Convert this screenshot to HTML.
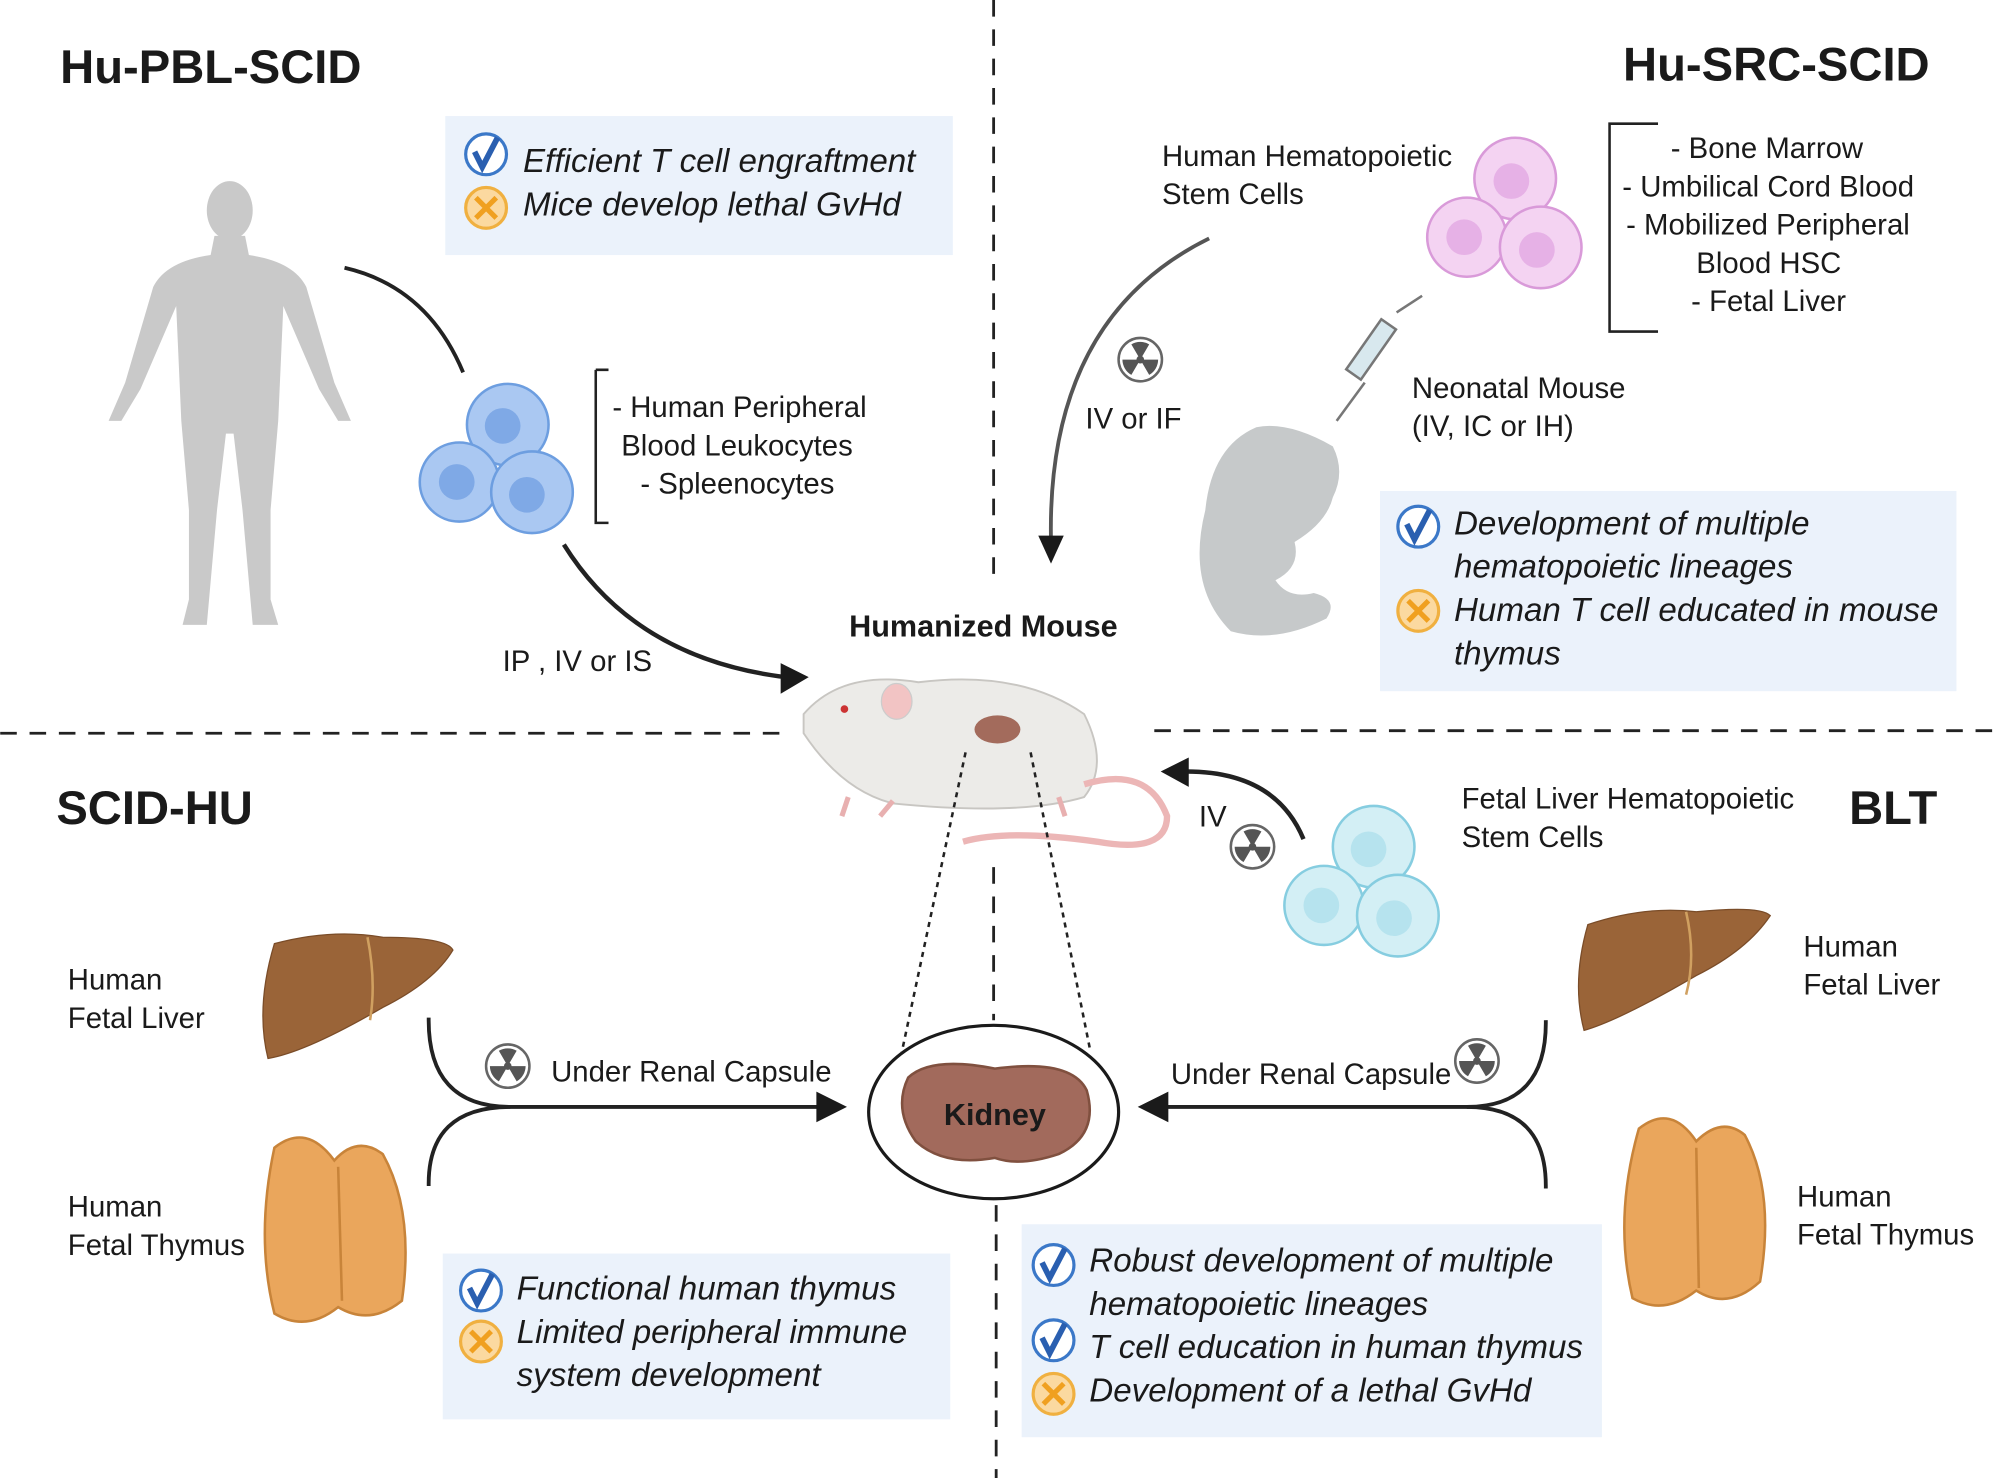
<!DOCTYPE html>
<html><head><meta charset="utf-8"><style>
html,body{margin:0;padding:0;background:#fff;}
svg{display:block;}
text{font-family:"Liberation Sans",sans-serif;fill:#1a1a1a;}
.t{font-size:23px;}
.i{font-size:26px;font-style:italic;}
.h{font-size:37px;font-weight:bold;}
</style></head><body>
<svg width="2000" height="1478" viewBox="0 0 1568 1159" xmlns="http://www.w3.org/2000/svg">
<defs>
<g id="chk"><circle cx="0" cy="0" r="16" fill="#fff" stroke="#3b78c8" stroke-width="2.5"/><path d="M-9,-2 L-3,10 L9,-13" fill="none" stroke="#2a5fb0" stroke-width="4.5"/></g>
<g id="crs"><circle cx="0" cy="0" r="16" fill="#fbd9a0" stroke="#f0b040" stroke-width="2.5"/><path d="M-8,-8 L8,8 M8,-8 L-8,8" stroke="#f0a020" stroke-width="4"/></g>
<g id="rad"><circle r="17" fill="#fff" stroke="#666" stroke-width="2"/><circle r="3" fill="#555"/><path d="M0,0 L-7,-12 A14,14 0 0 1 7,-12 Z M0,0 L14,0 A14,14 0 0 1 7,12 Z M0,0 L-7,12 A14,14 0 0 1 -14,0 Z" fill="#555"/></g>
</defs>
<g stroke="#222" stroke-width="2.2" stroke-dasharray="13,10" fill="none">
<line x1="779" y1="0" x2="779" y2="455"/>
<line x1="779" y1="680" x2="779" y2="800"/>
<line x1="781" y1="945" x2="781" y2="1159"/>
<line x1="0" y1="575" x2="615" y2="575"/>
<line x1="905" y1="573" x2="1568" y2="573"/>
</g>
<text class="h" x="47" y="65">Hu-PBL-SCID</text>
<text class="h" x="1513" y="63" text-anchor="end">Hu-SRC-SCID</text>
<text class="h" x="44" y="646">SCID-HU</text>
<text class="h" x="1519" y="646" text-anchor="end">BLT</text>
<rect x="349" y="91" width="398" height="109" fill="#ebf2fb"/>
<rect x="1082" y="385" width="452" height="157" fill="#ebf2fb"/>
<rect x="347" y="983" width="398" height="130" fill="#ebf2fb"/>
<rect x="801" y="960" width="455" height="167" fill="#ebf2fb"/>
<use href="#chk" x="381" y="121"/><use href="#crs" x="381" y="163"/>
<text class="i" x="410" y="135">Efficient T cell engraftment</text>
<text class="i" x="410" y="169">Mice develop lethal GvHd</text>
<use href="#chk" x="1112" y="413"/><use href="#crs" x="1112" y="479"/>
<text class="i" x="1140" y="419">Development of multiple</text>
<text class="i" x="1140" y="453">hematopoietic lineages</text>
<text class="i" x="1140" y="487">Human T cell educated in mouse</text>
<text class="i" x="1140" y="521">thymus</text>
<use href="#chk" x="377" y="1012"/><use href="#crs" x="377" y="1052"/>
<text class="i" x="405" y="1019">Functional human thymus</text>
<text class="i" x="405" y="1053">Limited peripheral immune</text>
<text class="i" x="405" y="1087">system development</text>
<use href="#chk" x="826" y="992"/><use href="#chk" x="826" y="1051"/><use href="#crs" x="826" y="1093"/>
<text class="i" x="854" y="997">Robust development of multiple</text>
<text class="i" x="854" y="1031">hematopoietic lineages</text>
<text class="i" x="854" y="1065">T cell education in human thymus</text>
<text class="i" x="854" y="1099">Development of a lethal GvHd</text>
<g fill="#c9c9c9">
<ellipse cx="180" cy="165" rx="18" ry="23"/>
<path d="M168,185 L192,185 L195,200 Q230,205 240,225 L262,300 L275,330 L265,330 L250,305 L222,240 L218,330 L212,400 L212,470 L218,490 L198,490 L190,400 L183,340 L177,340 L170,400 L162,490 L143,490 L148,470 L148,400 L142,330 L138,240 L110,305 L95,330 L85,330 L98,300 L120,225 Q130,205 165,200 Z"/>
</g>
<g stroke="#6d9ee0" stroke-width="2" fill="#aac8f2">
<circle cx="398" cy="333" r="32"/><circle cx="360" cy="378" r="31"/><circle cx="417" cy="386" r="32"/>
</g>
<g fill="#7fa9e6"><circle cx="394" cy="334" r="14"/><circle cx="358" cy="378" r="14"/><circle cx="413" cy="388" r="14"/></g>
<path d="M467,290 L477,290 M467,290 L467,410 L477,410" stroke="#222" stroke-width="2" fill="none"/>
<text class="t" x="480" y="327">- Human Peripheral</text>
<text class="t" x="487" y="357">Blood Leukocytes</text>
<text class="t" x="502" y="387">- Spleenocytes</text>
<path d="M270,210 Q335,225 363,292" stroke="#222" stroke-width="3" fill="none"/>
<path d="M442,427 Q500,520 625,532" stroke="#222" stroke-width="3.5" fill="none"/>
<path d="M612,520 L634,531 L612,544 z" fill="#1a1a1a"/>
<text class="t" x="394" y="526">IP , IV or IS</text>
<text class="t" x="911" y="130">Human Hematopoietic</text>
<text class="t" x="911" y="160">Stem Cells</text>
<g stroke="#d99ad9" stroke-width="2" fill="#f4d3f2">
<circle cx="1188" cy="140" r="32"/><circle cx="1150" cy="186" r="31"/><circle cx="1208" cy="194" r="32"/>
</g>
<g fill="#e6b1e6"><circle cx="1185" cy="142" r="14"/><circle cx="1148" cy="186" r="14"/><circle cx="1205" cy="196" r="14"/></g>
<path d="M1272,97 L1262,97 L1262,260 L1300,260 M1262,97 L1300,97" stroke="#222" stroke-width="2" fill="none"/>
<text class="t" x="1310" y="124">- Bone Marrow</text>
<text class="t" x="1272" y="154">- Umbilical Cord Blood</text>
<text class="t" x="1275" y="184">- Mobilized Peripheral</text>
<text class="t" x="1330" y="214">Blood HSC</text>
<text class="t" x="1326" y="244">- Fetal Liver</text>
<path d="M948,187 Q820,250 824,425" stroke="#555" stroke-width="3" fill="none"/>
<path d="M814,420 L824,442 L834,420 z" fill="#1a1a1a"/>
<use href="#rad" x="894" y="282"/>
<text class="t" x="851" y="336">IV or IF</text>
<g stroke="#777" stroke-width="2"><line x1="1048" y1="330" x2="1070" y2="300"/><rect x="1068" y="250" width="14" height="48" fill="#d8e8ee" transform="rotate(35 1075 274)"/><line x1="1095" y1="245" x2="1115" y2="232"/></g>
<text class="t" x="1107" y="312">Neonatal Mouse</text>
<text class="t" x="1107" y="342">(IV, IC or IH)</text>
<g fill="#c6c9ca">
<path d="M1045,350 Q1010,330 985,335 Q950,350 945,400 Q930,460 965,495 Q1000,505 1040,485 Q1050,470 1030,465 Q1010,470 1000,455 Q1020,445 1015,425 Q1040,410 1045,390 Q1055,370 1045,350 Z"/>
</g>
<text x="771" y="499" text-anchor="middle" style="font-size:24px;font-weight:bold">Humanized Mouse</text>
<g>
<path d="M630,560 Q660,525 720,535 Q800,525 850,560 Q870,600 850,625 Q800,640 700,630 Q660,620 630,575 Z" fill="#ecebe8" stroke="#c8c6c2" stroke-width="1.5"/>
<ellipse cx="703" cy="550" rx="12" ry="14" fill="#f2c4c4" stroke="#ccc"/>
<ellipse cx="782" cy="572" rx="18" ry="11" fill="#a36b5c"/>
<circle cx="662" cy="556" r="3" fill="#c33"/>
<path d="M850,615 Q900,600 915,640 Q915,670 860,660 Q790,650 755,660" stroke="#ecb6b6" stroke-width="5" fill="none"/>
<path d="M665,625 L660,640 M700,628 L690,640 M830,625 L835,640" stroke="#e8b0b0" stroke-width="4"/>
</g>
<path d="M757,590 L707,825 M808,590 L855,825" stroke="#222" stroke-width="2" stroke-dasharray="4,4" fill="none"/>
<ellipse cx="779" cy="872" rx="98" ry="68" fill="#fff" stroke="#1a1a1a" stroke-width="2.5"/>
<path d="M712,845 Q730,828 780,838 Q840,830 852,855 Q862,890 830,905 Q800,915 780,908 Q740,915 718,895 Q700,870 712,845 Z" fill="#a26a5c" stroke="#80503f" stroke-width="2"/>
<text x="780" y="882" text-anchor="middle" style="font-size:24px;font-weight:bold">Kidney</text>
<text class="t" x="53" y="776">Human</text>
<text class="t" x="53" y="806">Fetal Liver</text>
<text class="t" x="53" y="954">Human</text>
<text class="t" x="53" y="984">Fetal Thymus</text>
<path d="M215,740 Q260,728 300,735 Q350,735 355,745 Q340,770 300,790 Q240,825 210,830 Q200,790 215,740 Z" fill="#9a6438" stroke="#7a4c28"/>
<path d="M288,735 Q295,770 290,800" stroke="#d0a060" stroke-width="2" fill="none"/>
<path d="M215,900 Q240,880 262,910 Q280,890 300,905 Q325,950 315,1020 Q290,1040 265,1025 Q240,1045 215,1030 Q200,970 215,900 Z" fill="#eaa65c" stroke="#c8843a" stroke-width="2"/>
<path d="M265,915 L268,1020" stroke="#c8843a" stroke-width="2"/>
<path d="M336,798 Q335,868 400,868 L660,868" stroke="#222" stroke-width="3" fill="none"/>
<path d="M336,930 Q335,868 400,868" stroke="#222" stroke-width="3" fill="none"/>
<path d="M640,856 L664,868 L640,880 z" fill="#1a1a1a"/>
<use href="#rad" x="398" y="836"/>
<text class="t" x="432" y="848">Under Renal Capsule</text>
<text class="t" x="1146" y="634">Fetal Liver Hematopoietic</text>
<text class="t" x="1146" y="664">Stem Cells</text>
<g stroke="#86cde0" stroke-width="2" fill="#d3eff5">
<circle cx="1077" cy="664" r="32"/><circle cx="1038" cy="710" r="31"/><circle cx="1096" cy="718" r="32"/>
</g>
<g fill="#b6e3ee"><circle cx="1073" cy="666" r="14"/><circle cx="1036" cy="710" r="14"/><circle cx="1093" cy="720" r="14"/></g>
<path d="M1022,658 Q1000,605 930,605" stroke="#222" stroke-width="3.5" fill="none"/>
<path d="M932,594 L910,605 L932,617 z" fill="#1a1a1a"/>
<text class="t" x="940" y="648">IV</text>
<use href="#rad" x="982" y="664"/>
<text class="t" x="1414" y="750">Human</text>
<text class="t" x="1414" y="780">Fetal Liver</text>
<text class="t" x="1409" y="946">Human</text>
<text class="t" x="1409" y="976">Fetal Thymus</text>
<path d="M1245,725 Q1290,710 1330,715 Q1380,710 1388,718 Q1370,745 1330,765 Q1270,800 1242,808 Q1232,770 1245,725 Z" fill="#9a6438" stroke="#7a4c28"/>
<path d="M1322,715 Q1330,750 1322,780" stroke="#d0a060" stroke-width="2" fill="none"/>
<path d="M1285,885 Q1310,865 1330,895 Q1350,875 1368,890 Q1392,935 1380,1005 Q1355,1028 1330,1012 Q1305,1032 1280,1018 Q1265,955 1285,885 Z" fill="#eaa65c" stroke="#c8843a" stroke-width="2"/>
<path d="M1330,900 L1332,1010" stroke="#c8843a" stroke-width="2"/>
<path d="M1212,800 Q1213,868 1150,868 L900,868" stroke="#222" stroke-width="3" fill="none"/>
<path d="M1212,932 Q1213,868 1150,868" stroke="#222" stroke-width="3" fill="none"/>
<path d="M916,856 L892,868 L916,880 z" fill="#1a1a1a"/>
<use href="#rad" x="1158" y="832"/>
<text class="t" x="918" y="850">Under Renal Capsule</text>
</svg>
</body></html>
